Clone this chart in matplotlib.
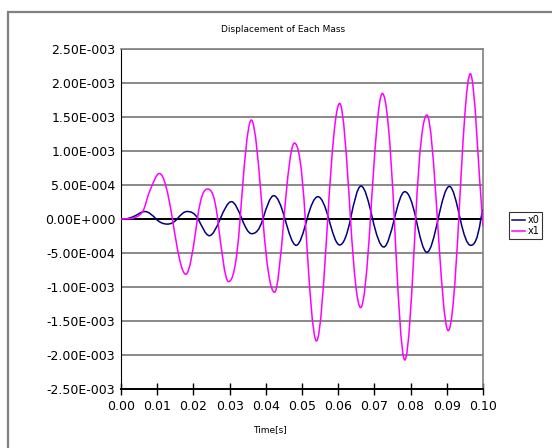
import matplotlib
matplotlib.use("Agg")
import matplotlib.pyplot as plt
import numpy as np
from matplotlib.path import Path
from matplotlib.patches import PathPatch, Rectangle
from matplotlib.lines import Line2D
from matplotlib.ticker import FuncFormatter, MultipleLocator

# values (time in s, displacement in 1e-3 m)
t_x0 = [0.0, 0.0015, 0.0032, 0.0066, 0.0097, 0.0128, 0.0155, 0.0182, 0.0213,
        0.0244, 0.0274, 0.0305, 0.0334, 0.0361, 0.0392, 0.0422, 0.0453,
        0.0484, 0.0514, 0.0544, 0.0574, 0.0604, 0.0634, 0.0663, 0.0695,
        0.0726, 0.0755, 0.0784, 0.0815, 0.0845, 0.0876, 0.0907, 0.0937,
        0.0966, 0.0994, 0.1]
v_x0 = [0.0, 0.004, 0.03, 0.11, 0.0, -0.075, 0.0, 0.11, 0.0,
        -0.245, 0.0, 0.255, 0.0, -0.216, 0.0, 0.343, 0.0,
        -0.387, 0.0, 0.328, 0.0, -0.382, 0.0, 0.485, 0.0,
        -0.412, 0.0, 0.402, 0.0, -0.49, 0.0, 0.48, 0.0,
        -0.387, 0.0, 0.14]

t_x1 = [0.0, 0.0015, 0.0032, 0.0046, 0.0059, 0.0080, 0.0106, 0.0142, 0.0179,
        0.0211, 0.0239, 0.0267, 0.0297, 0.0329, 0.0360, 0.0392, 0.0424,
        0.0450, 0.0479, 0.0509, 0.0540, 0.0571, 0.0604, 0.0634, 0.0662,
        0.0689, 0.0722, 0.0755, 0.0784, 0.0814, 0.0845, 0.0874, 0.0904,
        0.0933, 0.0965, 0.1]
v_x1 = [0.0, 0.002, 0.012, 0.04, 0.10, 0.42, 0.67, 0.0, -0.813,
        0.0, 0.441, 0.0, -0.921, 0.0, 1.455, 0.0, -1.078,
        0.0, 1.117, 0.0, -1.793, 0.0, 1.70, 0.0, -1.303,
        0.0, 1.847, 0.0, -2.073, 0.0, 1.529, 0.0, -1.642,
        0.0, 2.136, -0.11]

names = ["x0", "x1"]
colors = ["#000080", "#FF00FF"]


def smooth_path(t, v):
    # excel-like smoothed line: cubic hermite segments drawn as bezier curves
    t = np.asarray(t)
    v = np.asarray(v) * 1e-3
    n = len(t)
    d = np.diff(v) / np.diff(t)
    m = np.zeros(n)
    m[0], m[-1] = d[0], d[-1]
    for i in range(1, n - 1):
        a, b = d[i-1], d[i]
        if a * b <= 0:
            m[i] = 0.0  # peak or trough
        elif v[i-1] * v[i+1] < 0:
            # zero crossing between a peak and a trough
            lo, hi = min(abs(a), abs(b)), max(abs(a), abs(b))
            m[i] = np.sign(a) * min(1.52 * hi, 2.7 * lo)
        else:
            m[i] = 2 / (1 / a + 1 / b)
    verts = [(t[0], v[0])]
    codes = [Path.MOVETO]
    for i in range(n - 1):
        h = t[i+1] - t[i]
        verts += [(t[i] + h/3, v[i] + m[i]*h/3),
                  (t[i+1] - h/3, v[i+1] - m[i+1]*h/3),
                  (t[i+1], v[i+1])]
        codes += [Path.CURVE4] * 3
    return Path(verts, codes)


def sci(val, pos):
    s = "{:.2E}".format(val)
    mant, e = s.split("E")
    e = int(e)
    return f"{mant}E{'-' if e < 0 else '+'}{abs(e):03d}"


fig = plt.figure(figsize=(5.52, 4.48), dpi=100)
ax = fig.add_axes([121/552, 1-389/448, 362/552, 340/448])

for t, v, c in zip([t_x0, t_x1], [v_x0, v_x1], colors):
    ax.add_patch(PathPatch(smooth_path(t, v), fill=False, edgecolor=c, lw=1.1, zorder=3))

ax.set_xlim(0, 0.1)
ax.set_ylim(-2.5e-3, 2.5e-3)
ax.xaxis.set_major_locator(MultipleLocator(0.01))
ax.yaxis.set_major_locator(MultipleLocator(0.5e-3))
ax.xaxis.set_major_formatter(FuncFormatter(lambda x, p: f"{x:.2f}"))
ax.yaxis.set_major_formatter(FuncFormatter(sci))

ax.grid(axis="y", color="#808080", lw=1.3)
ax.axhline(0, color="black", lw=1.4, zorder=2)
ax.set_axisbelow(True)

for s in ["top", "right"]:
    ax.spines[s].set_color("#808080")
    ax.spines[s].set_linewidth(1.2)
ax.spines["left"].set_color("black")
ax.spines["bottom"].set_color("black")
ax.spines["bottom"].set_linewidth(1.4)

ax.tick_params(axis="x", direction="inout", length=8, width=1, pad=4, labelsize=9)
ax.tick_params(axis="y", length=0, pad=4, labelsize=9)

fig.text(283/552, 1-29/448, "Displacement of Each Mass", ha="center", va="center", fontsize=6.5)
fig.text(270/552, 1-430/448, "Time[s]", ha="center", va="center", fontsize=6.5)

handles = [Line2D([], [], color=c, lw=1.1) for c in colors]
leg = fig.legend(handles, names, loc="upper left", bbox_to_anchor=(509/552, 1-212/448),
                 fontsize=7, handlelength=1.3, handletextpad=0.3, borderpad=0.3,
                 labelspacing=0.15, fancybox=False, borderaxespad=0)
leg.get_frame().set_edgecolor("black")
leg.get_frame().set_linewidth(0.8)

fig.patches.append(Rectangle((8/552, -0.1), 1.0, 1.1 - 12/448, transform=fig.transFigure,
                             fill=False, edgecolor="#808080", lw=1.6))

fig.savefig("out.png", dpi=100)
